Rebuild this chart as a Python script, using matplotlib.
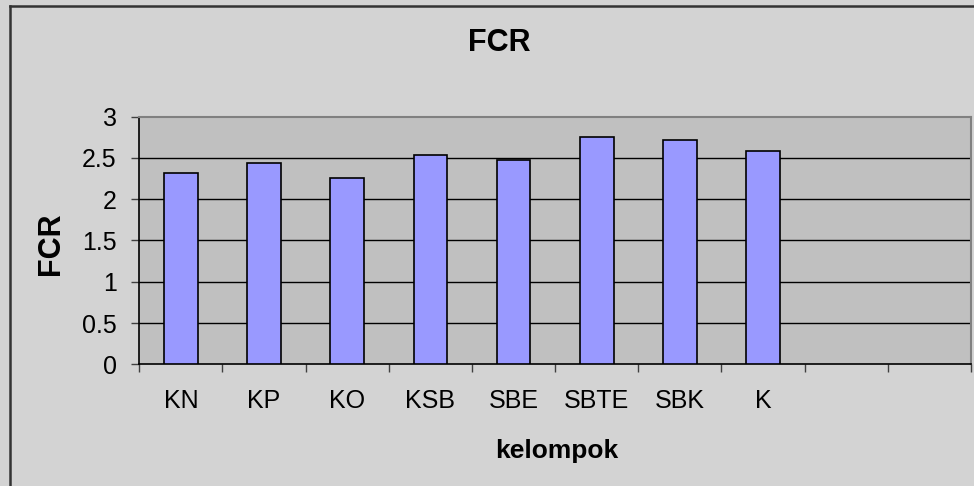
import numpy as np
import matplotlib.pyplot as plt
from matplotlib.lines import Line2D

plt.rcParams['font.family'] = ['Liberation Sans', 'DejaVu Sans']

# data
kelompok = ['KN', 'KP', 'KO', 'KSB', 'SBE', 'SBTE', 'SBK', 'K', '', '']
fcr = [2.32, 2.44, 2.26, 2.54, 2.47, 2.76, 2.72, 2.58]
y_ticks = [0, 0.5, 1, 1.5, 2, 2.5, 3]

fig = plt.figure(figsize=(9.74, 4.86), dpi=100, facecolor='#d3d3d3')
ax = fig.add_axes([139.3/974, 1 - 364.3/486, (971 - 139.3)/974, (364.3 - 116.7)/486])
ax.set_facecolor('#c0c0c0')

x = np.arange(len(fcr))
ax.bar(x, fcr, width=0.405, color='#9999ff', edgecolor='black', linewidth=1.2, zorder=3)

ax.set_xlim(-0.5, len(kelompok) - 0.5)
ax.set_ylim(0, 3)
ax.set_yticks(y_ticks)
ax.set_yticklabels([f'{v:g}' for v in y_ticks])
for v in y_ticks[1:-1]:
    ax.axhline(v, color='black', linewidth=1, zorder=1)

# ticks between categories, labels at centres
ax.set_xticks(np.arange(len(kelompok) + 1) - 0.5)
ax.set_xticklabels([])
ax.set_xticks(np.arange(len(kelompok)), minor=True)
ax.set_xticklabels(kelompok, minor=True, fontsize=18)
ax.tick_params(axis='x', which='major', direction='out', length=5.8, width=1, color='#404040')
ax.tick_params(axis='x', which='minor', length=0, pad=17.5)
ax.tick_params(axis='y', direction='out', length=5.5, width=1, color='#404040', labelsize=18, pad=10.8)

for s in ['left', 'bottom']:
    ax.spines[s].set_color('black')
    ax.spines[s].set_linewidth(1.2)
for s in ['top', 'right']:
    ax.spines[s].set_color('#808080')
    ax.spines[s].set_linewidth(1.5)

fig.text(499.5/974, 1 - 43/486, 'FCR', ha='center', va='center', fontsize=22, fontweight='bold')
fig.text(556.7/974, 1 - 451/486, 'kelompok', ha='center', va='center', fontsize=19, fontweight='bold')
fig.text(51/974, 1 - 244/486, 'FCR', ha='center', va='center', rotation=90, fontsize=22, fontweight='bold')

# outer chart frame (left and top edges visible)
fig.add_artist(Line2D([10/974, 10/974], [0, 1 - 6/486], color='#333333', linewidth=1.8))
fig.add_artist(Line2D([10/974, 1], [1 - 6/486, 1 - 6/486], color='#333333', linewidth=1.8))

fig.savefig('out.png', dpi=100, facecolor=fig.get_facecolor())
